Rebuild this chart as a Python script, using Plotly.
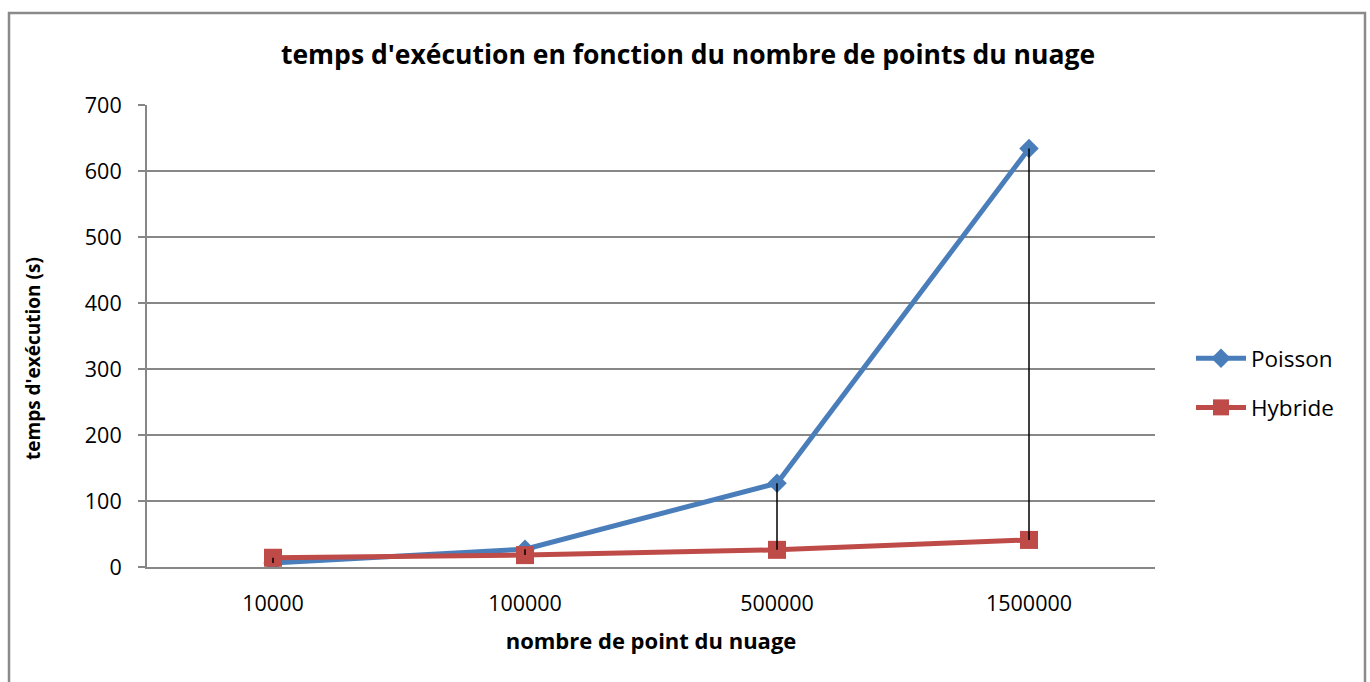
import plotly.graph_objects as go

# Execution time (s) versus point-cloud size
categories = ["10000", "100000", "500000", "1500000"]
poisson = [6, 27, 127, 634]
hybride = [14, 18, 26, 41]

BLUE = "#4A7EBB"
RED = "#BE4B48"
GRID = "#878787"
FONT = "Open Sans"

fig = go.Figure()

fig.add_trace(go.Scatter(
    x=categories, y=poisson, name="Poisson", mode="lines+markers",
    legendgroup="p",
    line=dict(color=BLUE, width=5),
    marker=dict(symbol="diamond", size=15, color=BLUE),
))
fig.add_trace(go.Scatter(
    x=categories, y=hybride, name="Hybride", mode="lines+markers",
    legendgroup="h",
    line=dict(color=RED, width=5),
    marker=dict(symbol="square", size=18, color=RED),
))

# high-low lines between the two series at each category
hx, hy = [], []
for c, p, h in zip(categories, poisson, hybride):
    hx += [c, c, None]
    hy += [p, h, None]
fig.add_trace(go.Scatter(
    x=hx, y=hy, mode="lines", showlegend=False, hoverinfo="skip",
    line=dict(color="black", width=1.5),
))

# plot area geometry (pixels)
L, R, T, B = 147, 1155, 105, 567
W, H = R - L, B - T

def px_x(p):
    return (p - L) / W

def px_y(p):
    return (B - p) / H

fig.add_shape(
    type="rect", xref="paper", yref="paper",
    x0=px_x(9), x1=px_x(1365), y0=px_y(700), y1=px_y(13),
    line=dict(color="#8a8a8a", width=2.5), fillcolor="rgba(0,0,0,0)",
    layer="below",
)

# vertical axis title
fig.add_annotation(
    text="<b>temps d'exécution (s)</b>", textangle=-90,
    xref="paper", yref="paper", x=px_x(33), y=px_y(359),
    xanchor="center", yanchor="middle", showarrow=False,
    font=dict(family=FONT, size=19, color="black"),
)

fig.update_layout(
    width=1370, height=682,
    margin=dict(l=L, r=1370 - R, t=T, b=682 - B, pad=0),
    paper_bgcolor="white", plot_bgcolor="white",
    font=dict(family=FONT, color="black", size=21),
    title=dict(
        text="<b>temps d'exécution en fonction du nombre de points du nuage</b>",
        x=688 / 1370, xanchor="center", xref="container",
        y=1 - 55 / 682, yanchor="middle",
        font=dict(family=FONT, size=26.5, color="black"),
    ),
    xaxis=dict(
        type="category", range=[-0.5, 3.5],
        showgrid=False, showline=True, linecolor=GRID, linewidth=2,
        ticks="", tickfont=dict(size=21.5), ticklabelstandoff=16,
        title=dict(text="<b>nombre de point du nuage</b>", standoff=18,
                   font=dict(size=22)),
        zeroline=False,
    ),
    yaxis=dict(
        range=[0, 700], dtick=100,
        showgrid=True, gridcolor=GRID, gridwidth=1.5,
        showline=True, linecolor=GRID, linewidth=2,
        ticks="outside", ticklen=7, tickcolor=GRID, tickwidth=2,
        tickfont=dict(size=21.5), ticklabelstandoff=12,
        zeroline=False,
    ),
    legend=dict(
        x=px_x(1191), xanchor="left", y=px_y(383), yanchor="middle",
        font=dict(size=22.5), tracegroupgap=17, itemwidth=50,
        bgcolor="rgba(0,0,0,0)",
    ),
    showlegend=True,
)

fig.write_html("out.html")
